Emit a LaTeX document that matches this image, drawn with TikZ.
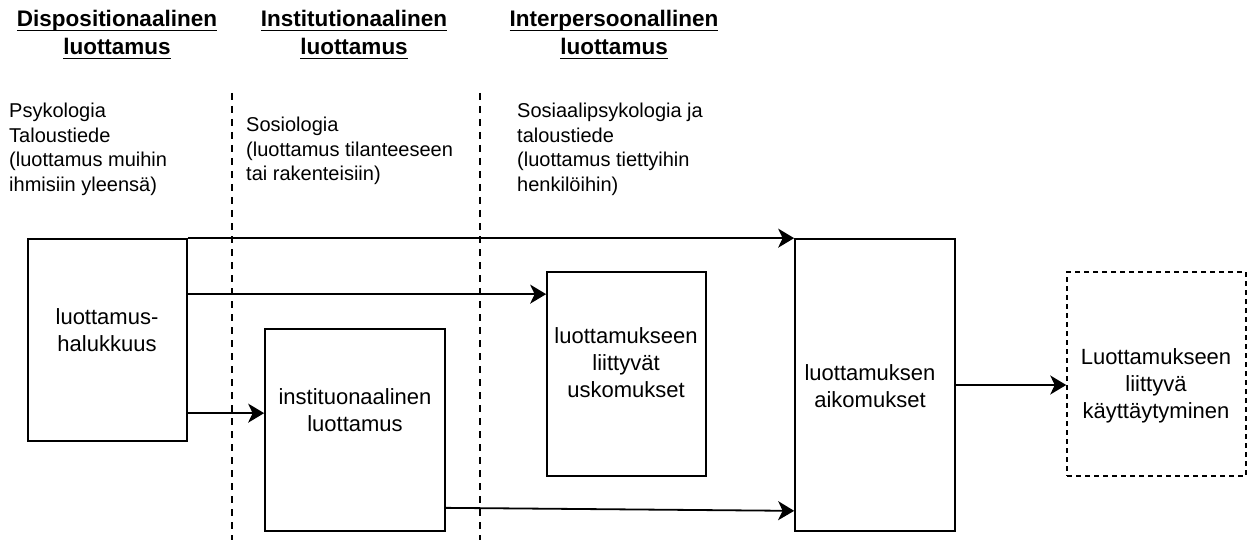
\documentclass[tikz,border=0pt]{standalone}
\usepackage{fontspec}
\setmainfont{Liberation Sans}
\usetikzlibrary{calc,positioning,arrows.meta}
\newsavebox\ulhdrbox
\newcommand\ulhdr[1]{\sbox\ulhdrbox{#1}\rlap{\rule[-4.5pt]{\wd\ulhdrbox}{1.7pt}}\usebox\ulhdrbox}
\tikzset{
  box/.style={draw, line width=1.7pt, inner sep=0pt},
  dbox/.style={box, line width=1.5pt, dash pattern=on 5pt off 4pt},
  wire/.style={line width=1.8pt, -{Stealth[length=16pt,width=19pt,inset=4.5pt]}},
  colline/.style={line width=1.6pt, dash pattern=on 7pt off 6pt},
  hdr/.style={font=\fontsize{22.5}{28}\selectfont\bfseries, align=center, inner sep=0pt},
  note/.style={font=\fontsize{20}{24.5}\selectfont, align=left, inner sep=0pt, anchor=north west},
  boxtxt/.style={font=\fontsize{22}{27}\selectfont, align=center, inner sep=0pt}
}
\begin{document}
\begin{tikzpicture}[x=1pt,y=-1pt]
  \useasboundingbox (0,0) rectangle (1247,540);
  \coordinate (c1t) at (232,93);
  \coordinate (c1b) at (232,540);
  \coordinate (c2t) at (480,93);
  \coordinate (c2b) at (480,540);
  \draw[colline] (c1t) -- (c1b);
  \draw[colline] (c2t) -- (c2b);

  \node[hdr] (h1) at (117,35) {\ulhdr{Dispositionaalinen}\\\ulhdr{luottamus}};
  \node[hdr] (h2) at (354,35) {\ulhdr{Institutionaalinen}\\\ulhdr{luottamus}};
  \node[hdr] (h3) at (614,35) {\ulhdr{Interpersoonallinen}\\\ulhdr{luottamus}};

  \node[note] (n1) at (9,103) {Psykologia\\Taloustiede\\(luottamus muihin\\ihmisiin yleensä)};
  \node[note] (n2) at (246,117) {Sosiologia\\(luottamus tilanteeseen\\tai rakenteisiin)};
  \node[note] (n3) at (517,103) {Sosiaalipsykologia ja\\taloustiede\\(luottamus tiettyihin\\henkilöihin)};

  \node[box, fill=white, minimum width=159pt, minimum height=202pt] (hal) at (107.5,340) {};
  \node[box, fill=white, minimum width=180pt, minimum height=202pt] (inst) at (355,430) {};
  \node[box, fill=white, minimum width=159pt, minimum height=204pt] (usk) at (626.5,374) {};
  \node[box, fill=white, minimum width=160pt, minimum height=292pt] (aik) at (875,385) {};
  \node[dbox, fill=white, minimum width=179pt, minimum height=204pt] (kay) at (1156.5,374) {};

  \node[boxtxt] (halT) at (107,330) {luottamus-\\halukkuus};
  \node[boxtxt] (instT) at (355,410) {instituonaalinen\\luottamus};
  \node[boxtxt] (uskT) at (626,363) {luottamukseen\\liittyvät\\uskomukset};
  \node[boxtxt] (aikT) at (870,386) {luottamuksen\\aikomukset};
  \node[boxtxt] (kayT) at (1156,386) {Luottamukseen\\liittyvä\\käyttäytyminen};

  \coordinate (uskIn) at ($(usk.north west)+(0,23)$);
  \coordinate (instIn) at ($(inst.north west)+(0,85)$);
  \draw[wire] (hal.north east) -- (aik.north west);
  \draw[wire] (hal.east |- uskIn) -- (uskIn);
  \draw[wire] (hal.east |- instIn) -- (instIn);
  \draw[wire] ($(inst.south east)+(0,-24)$) -- ($(aik.south west)+(0,-21)$);
  \draw[wire] (aik.east) -- (aik.east -| kay.west);
\end{tikzpicture}
\end{document}
